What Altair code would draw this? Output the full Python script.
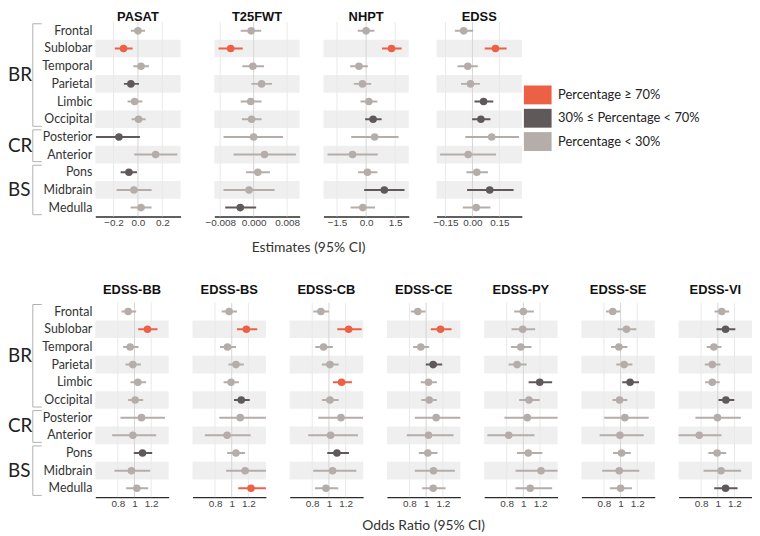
import altair as alt
import pandas as pd

# ---------------- data ----------------
regions = ["Frontal", "Sublobar", "Temporal", "Parietal", "Limbic", "Occipital",
           "Posterior", "Anterior", "Pons", "Midbrain", "Medulla"]
group_names = ["BR", "CR", "BS"]
group_first = [0, 6, 8]
group_last = [5, 7, 10]

cat_codes = ["H", "M", "L"]
cat_labels = ["Percentage \u2265 70%", "30% \u2264 Percentage < 70%", "Percentage < 30%"]
cat_colors = ["#ec6046", "#5f5959", "#b4adaa"]

top_names = ["PASAT", "T25FWT", "NHPT", "EDSS"]
bottom_names = ["EDSS-BB", "EDSS-BS", "EDSS-CB", "EDSS-CE", "EDSS-PY", "EDSS-SE", "EDSS-VI"]

pasat_est = [0.0, -0.118, 0.025, -0.058, -0.027, 0.005, -0.156, 0.145, -0.074, -0.033, 0.025]
pasat_lo = [-0.058, -0.19, -0.038, -0.115, -0.085, -0.052, -0.345, -0.03, -0.142, -0.175, -0.06]
pasat_hi = [0.058, -0.044, 0.09, 0.008, 0.036, 0.063, 0.016, 0.323, -0.008, 0.112, 0.112]
pasat_cat = "LHLMLLMLMLL"

t25_est = [-0.0006, -0.0055, -0.0002, 0.0019, -0.0007, -0.0005, 0.0, 0.0026, 0.001, -0.0011, -0.0032]
t25_lo = [-0.0031, -0.0084, -0.0027, -0.0005, -0.0031, -0.0028, -0.0072, -0.0048, -0.0018, -0.0072, -0.0068]
t25_hi = [0.0018, -0.0026, 0.0025, 0.0044, 0.0019, 0.0019, 0.007, 0.0101, 0.0039, 0.005, 0.0006]
t25_cat = "LHLLLLLLLLM"

nhpt_est = [0.0, 1.31, -0.37, -0.19, 0.14, 0.36, 0.44, -0.70, 0.07, 0.94, -0.17]
nhpt_lo = [-0.43, 0.82, -0.82, -0.63, -0.29, -0.05, -0.77, -1.99, -0.41, -0.10, -0.80]
nhpt_hi = [0.43, 1.83, 0.09, 0.26, 0.58, 0.80, 1.67, 0.60, 0.58, 1.98, 0.46]
nhpt_cat = "LHLLLMLLLML"

edss_est = [-0.049, 0.128, -0.026, -0.011, 0.062, 0.047, 0.107, -0.024, 0.024, 0.096, 0.021]
edss_lo = [-0.098, 0.068, -0.083, -0.064, 0.011, -0.002, -0.04, -0.18, -0.034, -0.03, -0.054]
edss_hi = [0.004, 0.19, 0.03, 0.041, 0.116, 0.1, 0.259, 0.131, 0.086, 0.229, 0.1]
edss_cat = "LHLLMMLLLML"

bb_est = [0.924, 1.156, 0.948, 0.98, 1.04, 1.008, 1.084, 0.98, 1.096, 0.964, 1.028]
bb_lo = [0.844, 1.044, 0.864, 0.892, 0.952, 0.924, 0.832, 0.732, 0.992, 0.76, 0.9]
bb_hi = [1.02, 1.276, 1.048, 1.076, 1.14, 1.104, 1.364, 1.26, 1.212, 1.188, 1.164]
bb_cat = "LHLLLLLLMLL"

bs_est = [0.969, 1.176, 0.949, 1.051, 0.992, 1.114, 1.102, 0.945, 1.051, 1.161, 1.231]
bs_lo = [0.88, 1.063, 0.859, 0.961, 0.902, 1.027, 0.851, 0.678, 0.945, 0.933, 1.078]
bs_hi = [1.063, 1.306, 1.051, 1.145, 1.086, 1.216, 1.42, 1.227, 1.161, 1.45, 1.45]
bs_cat = "LHLLLMLLLLH"

cb_est = [0.904, 1.236, 0.936, 1.012, 1.152, 1.012, 1.144, 1.02, 1.096, 1.044, 0.964]
cb_lo = [0.812, 1.1, 0.836, 0.916, 1.048, 0.916, 0.872, 0.752, 0.98, 0.812, 0.832]
cb_hi = [1.0, 1.392, 1.048, 1.116, 1.276, 1.116, 1.45, 1.348, 1.24, 1.328, 1.112]
cb_cat = "LHLLHLLLMLL"

ce_est = [0.9, 1.172, 0.936, 1.084, 1.028, 1.036, 1.12, 1.028, 1.02, 1.088, 1.084]
ce_lo = [0.816, 1.056, 0.844, 0.996, 0.936, 0.944, 0.864, 0.768, 0.912, 0.864, 0.952]
ce_hi = [0.992, 1.304, 1.036, 1.192, 1.128, 1.128, 1.45, 1.328, 1.136, 1.344, 1.232]
ce_cat = "LHLMLLLLLLL"

py_est = [1.0, 0.992, 0.969, 0.925, 1.196, 1.067, 1.047, 0.824, 1.059, 1.212, 1.082]
py_lo = [0.89, 0.859, 0.851, 0.824, 1.063, 0.949, 0.773, 0.569, 0.922, 0.906, 0.906]
py_hi = [1.125, 1.141, 1.098, 1.039, 1.345, 1.196, 1.45, 1.133, 1.227, 1.45, 1.345]
py_cat = "LLLLMLLLLLL"

se_est = [0.906, 1.071, 0.98, 1.043, 1.114, 0.988, 1.051, 0.992, 1.012, 0.984, 1.0]
se_lo = [0.824, 0.965, 0.886, 0.949, 1.02, 0.902, 0.804, 0.749, 0.91, 0.78, 0.871]
se_hi = [0.996, 1.188, 1.082, 1.141, 1.22, 1.082, 1.337, 1.278, 1.122, 1.224, 1.137]
se_cat = "LLLLMLLLLLL"

vi_est = [1.047, 1.093, 0.953, 0.934, 0.934, 1.097, 0.996, 0.778, 0.992, 1.039, 1.093]
vi_lo = [0.961, 0.984, 0.868, 0.844, 0.848, 1.008, 0.732, 0.5, 0.887, 0.829, 0.957]
vi_hi = [1.136, 1.21, 1.043, 1.031, 1.023, 1.198, 1.276, 1.043, 1.101, 1.28, 1.237]
vi_cat = "LMLLLMLLLLM"

top_ticks = [[-0.2, 0.0, 0.2], [-0.008, 0.0, 0.008], [-1.5, 0.0, 1.5], [-0.15, 0.0, 0.15]]
top_formats = [".1f", ".3f", ".1f", ".2f"]
top_domains = [[-0.35, 0.35], [-0.0094, 0.011], [-2.2, 2.2], [-0.2, 0.275]]
bottom_ticks = [0.8, 1.0, 1.2]
bottom_domain = [0.53, 1.41]

# ---------------- layout constants ----------------
H = 196
LEFT_W = 88
TOP_W = 86
BOT_W = 74
SANS = "Lato"

cat_map = dict(zip(cat_codes, cat_labels))
yscale = alt.Scale(domain=[-0.5, 10.5], reverse=True, nice=False, zero=False)
color_scale = alt.Scale(domain=cat_labels, range=cat_colors)
legend = alt.Legend(
    title=None, orient="none", legendX=524.5, legendY=64,
    symbolType="M-1.47,-1H1.47V1H-1.47Z", symbolSize=361,
    symbolStrokeWidth=0, symbolOpacity=1, labelFont=SANS, labelFontSize=13,
    labelColor="#222", labelOffset=11, rowPadding=4.5, padding=0, labelLimit=300,
)


def panel(name, est, lo, hi, cats, domain, ticks, fmt, width, ref, title_offset):
    df = pd.DataFrame({
        "region": regions, "idx": list(range(len(regions))),
        "est": est, "lo": lo, "hi": hi, "cat": [cat_map[c] for c in cats],
    })
    xscale = alt.Scale(domain=domain, nice=False, zero=False)
    axis = alt.Axis(values=ticks, format=fmt, title=None, grid=False, ticks=False,
                    labelFlush=False, labelOverlap=False, labelPadding=1,
                    labelFont="Liberation Sans", labelFontSize=10, labelColor="#444",
                    domainColor="#2b2b2b", domainWidth=1.4)
    yenc = alt.Y("idx:Q", scale=yscale, axis=None)

    bands = alt.Chart(df).transform_filter("datum.idx % 2 == 1").transform_calculate(
        y0="datum.idx - 0.5", y1="datum.idx + 0.5"
    ).mark_rect(color="#efefef").encode(
        x=alt.value(0), x2=alt.value(width),
        y=alt.Y("y0:Q", scale=yscale, axis=None), y2="y1:Q",
    )
    grid = alt.Chart(pd.DataFrame({"g": ticks})).mark_rule(strokeWidth=1).encode(
        x=alt.X("g:Q", scale=xscale, axis=axis),
        y=alt.value(0), y2=alt.value(H),
        color=alt.condition(f"datum.g == {ref}", alt.value("#d6d6d6"), alt.value("#e9e9e9")),
    )
    points = alt.Chart(df).mark_circle(size=58, opacity=1).encode(
        x=alt.X("est:Q", scale=xscale, axis=axis), y=yenc,
        color=alt.Color("cat:N", scale=color_scale, legend=legend),
    )
    bars = alt.Chart(df).mark_rule(strokeWidth=2, clip=True).encode(
        x=alt.X("lo:Q", scale=xscale, axis=axis), x2="hi:Q", y=yenc,
        color=alt.Color("cat:N", scale=color_scale, legend=None),
    )
    return alt.layer(bands, grid, points, bars).properties(
        width=width, height=H,
        title=alt.TitleParams(name, anchor="middle", font="Liberation Sans", fontSize=13,
                              fontWeight="bold", color="#111", offset=title_offset),
    )


def left_panel(title_offset):
    lab_df = pd.DataFrame({"region": regions, "idx": list(range(len(regions)))})
    grp_df = pd.DataFrame({"name": group_names, "first": group_first, "last": group_last})
    labels = alt.Chart(lab_df).mark_text(
        align="right", baseline="middle", font=SANS, fontSize=12.5, color="#333"
    ).encode(x=alt.value(85), y=alt.Y("idx:Q", scale=yscale, axis=None), text="region:N")
    gbase = alt.Chart(grp_df).transform_calculate(
        mid="(datum.first + datum.last) / 2", a="datum.first - 0.4", b="datum.last + 0.4"
    )
    gtext = gbase.mark_text(
        align="left", baseline="middle", font=SANS, fontSize=19, color="#222"
    ).encode(x=alt.value(0), y=alt.Y("mid:Q", scale=yscale, axis=None), text="name:N")
    vline = gbase.mark_rule(color="#b0b0b0", strokeWidth=1).encode(
        x=alt.value(25), y=alt.Y("a:Q", scale=yscale, axis=None), y2="b:Q")
    topt = gbase.mark_rule(color="#b0b0b0", strokeWidth=1).encode(
        x=alt.value(25), x2=alt.value(34), y=alt.Y("a:Q", scale=yscale, axis=None))
    bott = gbase.mark_rule(color="#b0b0b0", strokeWidth=1).encode(
        x=alt.value(25), x2=alt.value(34), y=alt.Y("b:Q", scale=yscale, axis=None))
    return alt.layer(vline, topt, bott, gtext, labels).properties(
        width=LEFT_W, height=H,
        title=alt.TitleParams(" ", anchor="middle", font="Liberation Sans", fontSize=13,
                              fontWeight="bold", offset=title_offset),
    )


top_data = [
    (pasat_est, pasat_lo, pasat_hi, pasat_cat),
    (t25_est, t25_lo, t25_hi, t25_cat),
    (nhpt_est, nhpt_lo, nhpt_hi, nhpt_cat),
    (edss_est, edss_lo, edss_hi, edss_cat),
]
bottom_data = [
    (bb_est, bb_lo, bb_hi, bb_cat),
    (bs_est, bs_lo, bs_hi, bs_cat),
    (cb_est, cb_lo, cb_hi, cb_cat),
    (ce_est, ce_lo, ce_hi, ce_cat),
    (py_est, py_lo, py_hi, py_cat),
    (se_est, se_lo, se_hi, se_cat),
    (vi_est, vi_lo, vi_hi, vi_cat),
]

TOP_OFF = -2
BOT_OFF = 5

top_panels = [
    panel(n, *d, top_domains[i], top_ticks[i], top_formats[i], TOP_W, 0, TOP_OFF)
    for i, (n, d) in enumerate(zip(top_names, top_data))
]
bottom_panels = [
    panel(n, *d, bottom_domain, bottom_ticks, "~g", BOT_W, 1, BOT_OFF)
    for n, d in zip(bottom_names, bottom_data)
]

top_inner = alt.hconcat(*top_panels, spacing=24).properties(
    title=alt.TitleParams("Estimates (95% CI)", orient="bottom", anchor="middle",
                          font=SANS, fontSize=14, fontWeight="normal", color="#333", offset=14)
)
bottom_inner = alt.hconcat(*bottom_panels, spacing=24).properties(
    title=alt.TitleParams("Odds Ratio (95% CI)", orient="bottom", anchor="middle",
                          font=SANS, fontSize=14, fontWeight="normal", color="#333", offset=11)
)

top_row = alt.hconcat(left_panel(TOP_OFF), top_inner, spacing=0)
bottom_row = alt.hconcat(left_panel(BOT_OFF), bottom_inner, spacing=0)

chart = alt.vconcat(top_row, bottom_row, spacing=29).properties(
    padding=0, background="white"
).configure_view(stroke=None)

chart.save("out.html", embed_options={"renderer": "svg", "actions": False})
